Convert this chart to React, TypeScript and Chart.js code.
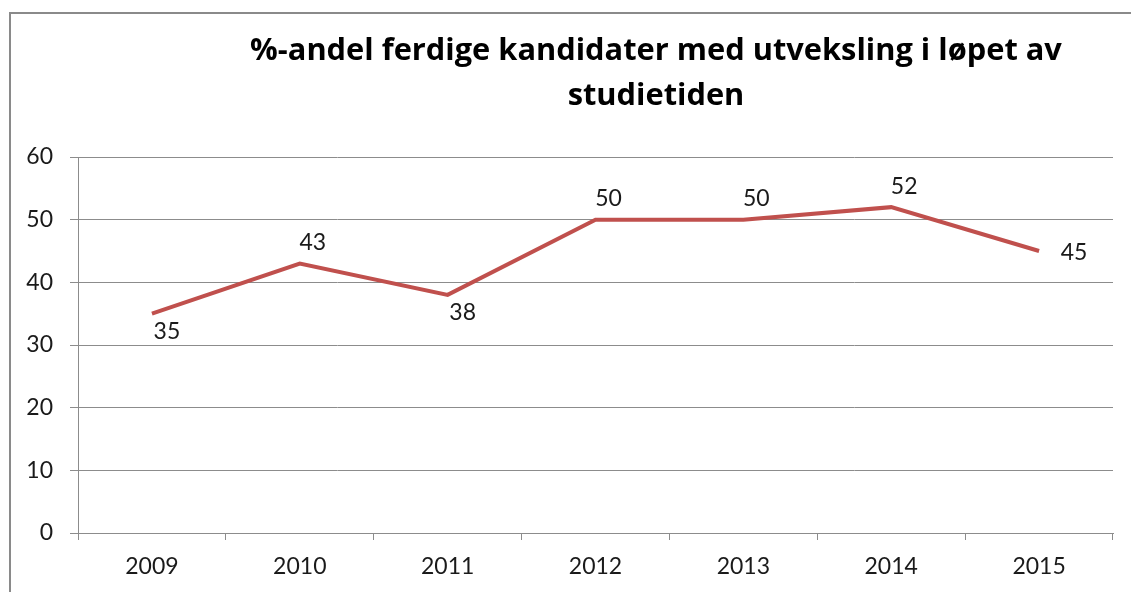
import React, { useEffect, useRef } from "react";
import { Chart, registerables } from "chart.js";

Chart.register(...registerables);

const TITLE_LINES = ["%-andel ferdige kandidater med utveksling i løpet av", "studietiden"];
const YEARS = ["2009", "2010", "2011", "2012", "2013", "2014", "2015"];
const VALUES = [35, 43, 38, 50, 50, 52, 45];
const LABEL_POS = ["below", "above", "below", "above", "above", "above", "right"];
const Y_MIN = 0;
const Y_MAX = 60;
const Y_STEP = 10;

const FONT = "Lato, 'Noto Sans', sans-serif";
const TITLE_FONT = "'Open Sans', 'Noto Sans', sans-serif";
const GRID = "#8c8c8c";
const LINE = "#C0504D";
const TITLE_WIDTH = 812;

const framePlugin = {
  id: "frame",
  beforeDraw(chart: any) {
    const ctx = chart.ctx;
    ctx.save();
    ctx.fillStyle = "#ffffff";
    ctx.fillRect(0, 0, chart.width, chart.height);
    ctx.strokeStyle = "#8a8a8a";
    ctx.lineWidth = 2;
    ctx.strokeRect(10, 13, chart.width + 50, chart.height + 50);
    ctx.fillStyle = "#000000";
    ctx.font = `bold 100px ${TITLE_FONT}`;
    const w = ctx.measureText(TITLE_LINES[0]).width;
    const size = Math.min(32, (100 * TITLE_WIDTH) / w);
    ctx.font = `bold ${size.toFixed(2)}px ${TITLE_FONT}`;
    ctx.textAlign = "center";
    ctx.textBaseline = "alphabetic";
    TITLE_LINES.forEach((t, i) => ctx.fillText(t, 656, 60 + i * 45));
    ctx.restore();
  },
};

const labelPlugin = {
  id: "valueLabels",
  afterDatasetsDraw(chart: any) {
    const ctx = chart.ctx;
    const meta = chart.getDatasetMeta(0);
    ctx.save();
    ctx.font = `23px ${FONT}`;
    ctx.fillStyle = "#1a1a1a";
    ctx.textAlign = "center";
    ctx.textBaseline = "middle";
    meta.data.forEach((pt: any, i: number) => {
      const pos = LABEL_POS[i];
      let x = pt.x;
      let y = pt.y;
      if (pos === "above") {
        x += 13;
        y -= 21;
      } else if (pos === "below") {
        x += 15;
        y += 18;
      } else {
        x += 35;
        y += 2;
      }
      ctx.fillText(String(VALUES[i]), x, y);
    });
    ctx.restore();
  },
};

export default function App() {
  const ref = useRef<HTMLCanvasElement | null>(null);
  useEffect(() => {
    if (!ref.current) return;
    const chart = new Chart(ref.current, {
      type: "line",
      data: {
        labels: YEARS,
        datasets: [
          {
            data: VALUES,
            borderColor: LINE,
            borderWidth: 4,
            pointRadius: 0,
            tension: 0,
            fill: false,
          },
        ],
      },
      options: {
        responsive: false,
        animation: false,
        layout: { padding: { left: 0, right: 18, top: 157, bottom: 0 } },
        plugins: {
          legend: { display: false },
          title: { display: false },
          tooltip: { enabled: false },
        },
        scales: {
          x: {
            offset: true,
            grid: {
              offset: true,
              drawOnChartArea: false,
              drawTicks: true,
              tickLength: 7,
              color: GRID,
            },
            border: { color: GRID, width: 1 },
            ticks: {
              color: "#1a1a1a",
              font: { family: FONT, size: 23 },
              padding: 13,
              maxRotation: 0,
            },
            afterFit(scale: any) {
              scale.height = 59;
            },
          },
          y: {
            min: Y_MIN,
            max: Y_MAX,
            grid: { color: GRID, tickLength: 8, drawTicks: true },
            border: { color: GRID, width: 1 },
            ticks: {
              stepSize: Y_STEP,
              color: "#1a1a1a",
              font: { family: FONT, size: 23 },
              padding: 17,
            },
            afterFit(scale: any) {
              scale.width = 78;
            },
          },
        },
      },
      plugins: [framePlugin, labelPlugin],
    });
    return () => chart.destroy();
  }, []);
  return (
    <div style={{ position: "absolute", left: 0, top: 0, width: 1131, height: 592 }}>
      <canvas ref={ref} width={1131} height={592} style={{ display: "block" }} />
    </div>
  );
}
